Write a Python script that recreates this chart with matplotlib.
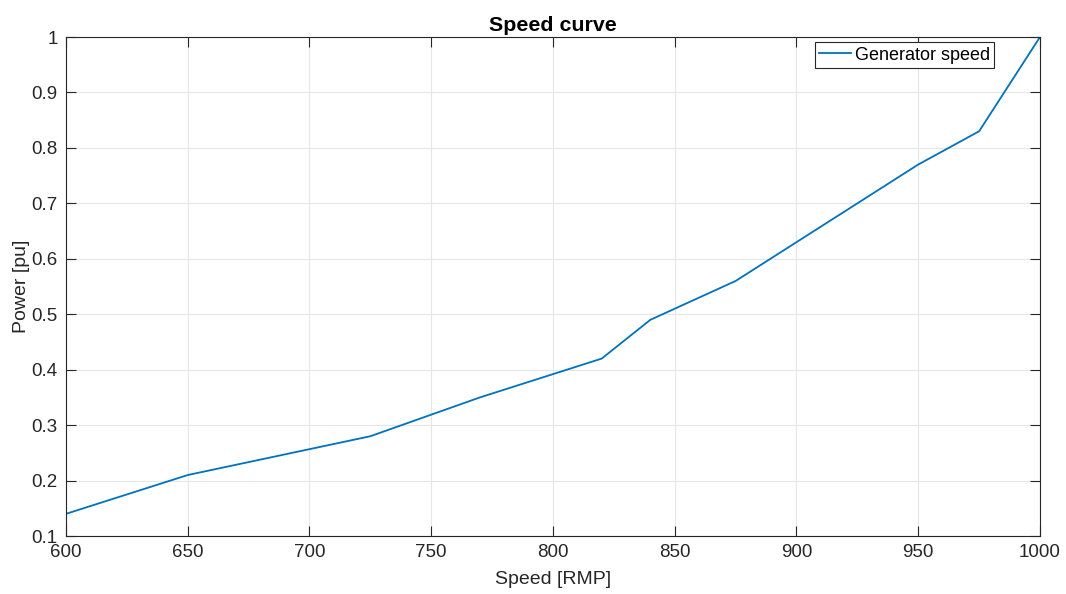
import matplotlib
matplotlib.use("Agg")
import matplotlib.pyplot as plt

# speed curve data
speed = [600, 650, 725, 770, 820, 840, 875, 950, 975, 1000]
power = [0.14, 0.21, 0.28, 0.35, 0.42, 0.49, 0.56, 0.77, 0.83, 1.0]
xticks = [600, 650, 700, 750, 800, 850, 900, 950, 1000]
yticks = [0.1, 0.2, 0.3, 0.4, 0.5, 0.6, 0.7, 0.8, 0.9, 1.0]
ytick_labels = ["0.1", "0.2", "0.3", "0.4", "0.5", "0.6", "0.7", "0.8", "0.9", "1"]

plt.rcParams['font.family'] = ['Liberation Sans', 'DejaVu Sans']

fig = plt.figure(figsize=(10.66, 5.94), dpi=100)
ax = fig.add_axes([0.0619, 0.0976, 0.9137, 0.8401])

ax.plot(speed, power, color='#0072BD', linewidth=1.3, label='Generator speed')

ax.set_xlim(600, 1000)
ax.set_ylim(0.1, 1.0)
ax.set_xticks(xticks)
ax.set_yticks(yticks)
ax.set_yticklabels(ytick_labels)
ax.grid(True, color='#e6e6e6', linewidth=0.8)
ax.set_axisbelow(True)

ax.tick_params(direction='in', top=True, right=True, length=7, width=0.8,
               labelsize=13.5, colors='#262626', pad=6)
for sp in ax.spines.values():
    sp.set_color('#262626')
    sp.set_linewidth(0.8)

ax.set_xlabel('Speed [RMP]', fontsize=14, color='#262626', labelpad=7)
ax.set_ylabel('Power [pu]', fontsize=14, color='#262626', labelpad=1)
ax.set_title('Speed curve', fontsize=15.4, fontweight='bold', pad=4)

leg = ax.legend(loc='upper right', bbox_to_anchor=(0.953, 0.99), fontsize=13,
                fancybox=False, framealpha=1, edgecolor='#262626',
                handlelength=1.75, borderpad=0.25, handletextpad=0.2,
                borderaxespad=0)
leg.get_frame().set_linewidth(0.8)

fig.savefig('out.png', dpi=100)
